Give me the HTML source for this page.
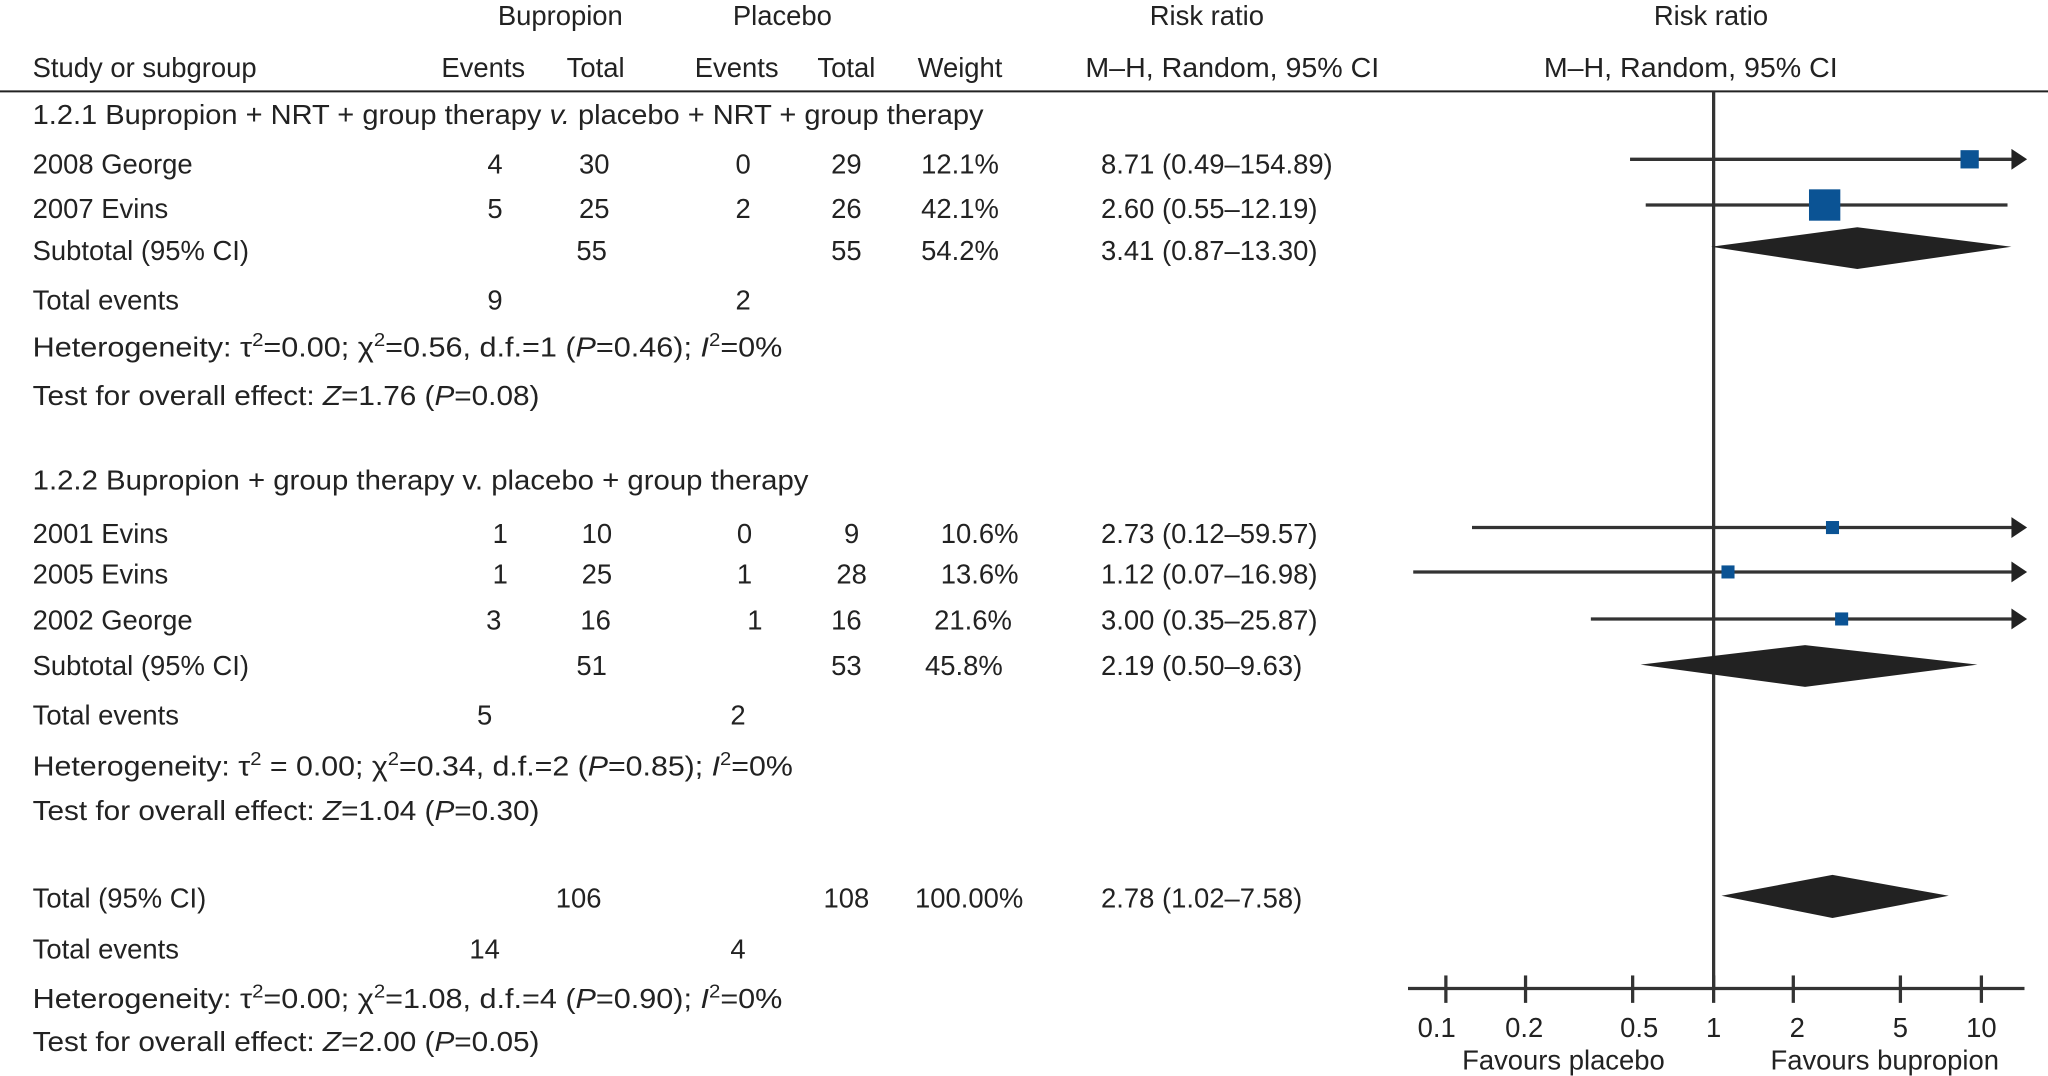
<!DOCTYPE html>
<html><head><meta charset="utf-8"><style>
html,body{margin:0;padding:0;background:#fff;}
svg{display:block;}
text{font-family:"Liberation Sans Narrow","Liberation Sans",sans-serif;font-size:21px;fill:#222;}
.m{text-anchor:middle;}
</style></head><body>
<svg width="2048" height="1076" viewBox="0 0 1568 824" preserveAspectRatio="none" xmlns="http://www.w3.org/2000/svg">
<rect width="1568" height="824" fill="#fff"/>
<!-- headers -->
<text x="429" y="19" class="m">Bupropion</text>
<text x="599" y="19" class="m">Placebo</text>
<text x="924" y="19" class="m">Risk ratio</text>
<text x="1310" y="19" class="m">Risk ratio</text>
<text x="25" y="59">Study or subgroup</text>
<text x="370" y="59" class="m">Events</text>
<text x="456" y="59" class="m">Total</text>
<text x="564" y="59" class="m">Events</text>
<text x="648" y="59" class="m">Total</text>
<text x="735" y="59" class="m">Weight</text>
<text x="831" y="59" textLength="225" lengthAdjust="spacingAndGlyphs">M–H,  Random, 95% CI</text>
<text x="1182" y="59" textLength="225" lengthAdjust="spacingAndGlyphs">M–H,  Random, 95% CI</text>
<line x1="0" y1="70" x2="1568" y2="70" stroke="#222" stroke-width="1.5"/>

<text x="25" y="95" textLength="728" lengthAdjust="spacingAndGlyphs">1.2.1 Bupropion + NRT + group therapy <tspan font-style="italic">v.</tspan> placebo + NRT + group therapy</text>
<text x="25" y="133">2008 George</text>
<text x="379" y="133" class="m">4</text><text x="455" y="133" class="m">30</text><text x="569" y="133" class="m">0</text><text x="648" y="133" class="m">29</text><text x="735" y="133" class="m">12.1%</text><text x="843" y="133">8.71 (0.49–154.89)</text>
<text x="25" y="167">2007 Evins</text>
<text x="379" y="167" class="m">5</text><text x="455" y="167" class="m">25</text><text x="569" y="167" class="m">2</text><text x="648" y="167" class="m">26</text><text x="735" y="167" class="m">42.1%</text><text x="843" y="167">2.60 (0.55–12.19)</text>
<text x="25" y="199">Subtotal (95% CI)</text>
<text x="453" y="199" class="m">55</text><text x="648" y="199" class="m">55</text><text x="735" y="199" class="m">54.2%</text><text x="843" y="199">3.41 (0.87–13.30)</text>
<text x="25" y="237">Total events</text><text x="379" y="237" class="m">9</text><text x="569" y="237" class="m">2</text>
<text x="25" y="273" textLength="574" lengthAdjust="spacingAndGlyphs">Heterogeneity: τ<tspan dy="-8" font-size="14">2</tspan><tspan dy="8">=0.00; χ</tspan><tspan dy="-8" font-size="14">2</tspan><tspan dy="8">=0.56, d.f.=1 (</tspan><tspan font-style="italic">P</tspan>=0.46); <tspan font-style="italic">I</tspan><tspan dy="-8" font-size="14">2</tspan><tspan dy="8">=0%</tspan></text>
<text x="25" y="310" textLength="388" lengthAdjust="spacingAndGlyphs">Test for overall effect: <tspan font-style="italic">Z</tspan>=1.76 (<tspan font-style="italic">P</tspan>=0.08)</text>

<text x="25" y="375" textLength="594" lengthAdjust="spacingAndGlyphs">1.2.2 Bupropion + group therapy v. placebo + group therapy</text>
<text x="25" y="416">2001 Evins</text>
<text x="383" y="416" class="m">1</text><text x="457" y="416" class="m">10</text><text x="570" y="416" class="m">0</text><text x="652" y="416" class="m">9</text><text x="750" y="416" class="m">10.6%</text><text x="843" y="416">2.73 (0.12–59.57)</text>
<text x="25" y="447">2005 Evins</text>
<text x="383" y="447" class="m">1</text><text x="457" y="447" class="m">25</text><text x="570" y="447" class="m">1</text><text x="652" y="447" class="m">28</text><text x="750" y="447" class="m">13.6%</text><text x="843" y="447">1.12 (0.07–16.98)</text>
<text x="25" y="482">2002 George</text>
<text x="378" y="482" class="m">3</text><text x="456" y="482" class="m">16</text><text x="578" y="482" class="m">1</text><text x="648" y="482" class="m">16</text><text x="745" y="482" class="m">21.6%</text><text x="843" y="482">3.00 (0.35–25.87)</text>
<text x="25" y="517">Subtotal (95% CI)</text>
<text x="453" y="517" class="m">51</text><text x="648" y="517" class="m">53</text><text x="738" y="517" class="m">45.8%</text><text x="843" y="517">2.19 (0.50–9.63)</text>
<text x="25" y="555">Total events</text><text x="371" y="555" class="m">5</text><text x="565" y="555" class="m">2</text>
<text x="25" y="594" textLength="582" lengthAdjust="spacingAndGlyphs">Heterogeneity: τ<tspan dy="-8" font-size="14">2</tspan><tspan dy="8"> = 0.00; χ</tspan><tspan dy="-8" font-size="14">2</tspan><tspan dy="8">=0.34, d.f.=2 (</tspan><tspan font-style="italic">P</tspan>=0.85); <tspan font-style="italic">I</tspan><tspan dy="-8" font-size="14">2</tspan><tspan dy="8">=0%</tspan></text>
<text x="25" y="628" textLength="388" lengthAdjust="spacingAndGlyphs">Test for overall effect: <tspan font-style="italic">Z</tspan>=1.04 (<tspan font-style="italic">P</tspan>=0.30)</text>

<text x="25" y="695">Total (95% CI)</text>
<text x="443" y="695" class="m">106</text><text x="648" y="695" class="m">108</text><text x="742" y="695" class="m">100.00%</text><text x="843" y="695">2.78 (1.02–7.58)</text>
<text x="25" y="734">Total events</text><text x="371" y="734" class="m">14</text><text x="565" y="734" class="m">4</text>
<text x="25" y="772" textLength="574" lengthAdjust="spacingAndGlyphs">Heterogeneity: τ<tspan dy="-8" font-size="14">2</tspan><tspan dy="8">=0.00; χ</tspan><tspan dy="-8" font-size="14">2</tspan><tspan dy="8">=1.08, d.f.=4 (</tspan><tspan font-style="italic">P</tspan>=0.90); <tspan font-style="italic">I</tspan><tspan dy="-8" font-size="14">2</tspan><tspan dy="8">=0%</tspan></text>
<text x="25" y="805" textLength="388" lengthAdjust="spacingAndGlyphs">Test for overall effect: <tspan font-style="italic">Z</tspan>=2.00 (<tspan font-style="italic">P</tspan>=0.05)</text>

<!-- plot -->
<g stroke="#333" stroke-width="2.5">
<line x1="1312" y1="70" x2="1312" y2="757"/>
<line x1="1248" y1="122" x2="1542" y2="122"/>
<line x1="1260" y1="157" x2="1537" y2="157"/>
<line x1="1127" y1="404" x2="1542" y2="404"/>
<line x1="1082" y1="438" x2="1542" y2="438"/>
<line x1="1218" y1="474" x2="1542" y2="474"/>
<line x1="1078" y1="757" x2="1550" y2="757"/>
<line x1="1107" y1="747" x2="1107" y2="768"/>
<line x1="1168" y1="747" x2="1168" y2="768"/>
<line x1="1250" y1="747" x2="1250" y2="768"/>
<line x1="1312" y1="747" x2="1312" y2="768"/>
<line x1="1373" y1="747" x2="1373" y2="768"/>
<line x1="1455" y1="747" x2="1455" y2="768"/>
<line x1="1517" y1="747" x2="1517" y2="768"/>
</g>
<g fill="#222">
<polygon points="1540,114 1552,122 1540,130"/>
<polygon points="1540,396 1552,404 1540,412"/>
<polygon points="1540,430 1552,438 1540,446"/>
<polygon points="1540,466 1552,474 1540,482"/>
<polygon points="1310,189 1422,174 1540,189 1422,206"/>
<polygon points="1256,509 1382,494 1514,509 1382,526"/>
<polygon points="1318,686 1403,670 1492,686 1403,703"/>
</g>
<g fill="#0b5394">
<rect x="1501" y="115" width="14" height="14"/>
<rect x="1385" y="145" width="24" height="24"/>
<rect x="1398" y="399" width="10" height="10"/>
<rect x="1318" y="433" width="10" height="10"/>
<rect x="1405" y="469" width="10" height="10"/>
</g>
<text x="1100" y="794" class="m">0.1</text>
<text x="1167" y="794" class="m">0.2</text>
<text x="1255" y="794" class="m">0.5</text>
<text x="1312" y="794" class="m">1</text>
<text x="1376" y="794" class="m">2</text>
<text x="1455" y="794" class="m">5</text>
<text x="1517" y="794" class="m">10</text>
<text x="1197" y="819" class="m">Favours placebo</text>
<text x="1443" y="819" class="m">Favours bupropion</text>
</svg>
</body></html>
